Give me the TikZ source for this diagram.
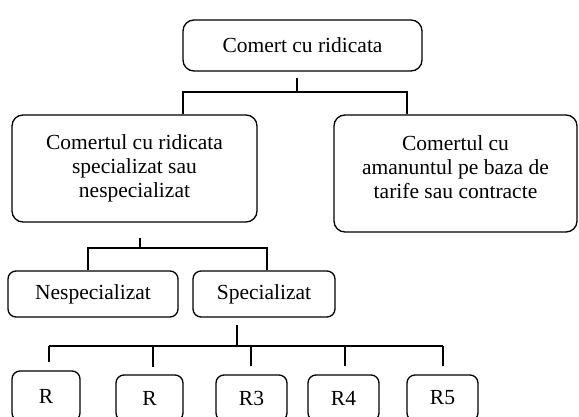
\documentclass[tikz,border=0pt]{standalone}
\usepackage{fontspec}
\setmainfont{Liberation Serif}
\begin{document}
\begin{tikzpicture}[x=1pt,y=-1pt,
  box/.style={draw,line width=1.3pt,rounded corners=11pt,align=center,inner sep=0pt,
    font=\fontsize{21.5}{24}\selectfont},
  small/.style={box,rounded corners=8pt},
  txt/.style={align=center,inner sep=0pt,font=\fontsize{21.5}{24}\selectfont},
  conn/.style={line width=1.3pt}]
\useasboundingbox (0,0) rectangle (579,417);
% boxes
\node[box,minimum width=239pt,minimum height=51pt] (top) at (302.5,45.5) {Comert cu ridicata};
\node[box,minimum width=245pt,minimum height=107pt] (left) at (134.5,168.5) {Comertul cu ridicata\\specializat sau\\nespecializat};
\node[box,minimum width=243pt,minimum height=117pt] (right) at (455.5,173.5) {};
\node[txt] (righttext) at (455.5,167.5) {Comertul cu\\amanuntul pe baza de\\tarife sau contracte};
\node[small,minimum width=170pt,minimum height=46pt] (nesp) at (93,294) {Nespecializat};
\node[small,minimum width=142pt,minimum height=46pt] (spec) at (264,294) {Specializat};
\node[small,minimum width=68pt,minimum height=50pt] (r1) at (46,396) {R};
\node[small,minimum width=67pt,minimum height=46pt] (r2) at (149.5,398) {R};
\node[small,minimum width=71pt,minimum height=46pt] (r3) at (251.5,398) {R3};
\node[small,minimum width=71pt,minimum height=46pt] (r4) at (343.5,398) {R4};
\node[small,minimum width=71pt,minimum height=46pt] (r5) at (442.5,398) {R5};
% connector points
\coordinate (t0) at (297,78);
\coordinate (t1) at (297,92);
\coordinate (tl) at (183,92);
\coordinate (tr) at (407,92);
\coordinate (l0) at (140,238);
\coordinate (l1) at (140,248);
\coordinate (ll) at (88,248);
\coordinate (lr) at (267,248);
\coordinate (s0) at (237,325);
\coordinate (s1) at (237,346);
\coordinate (b1) at (49,346);
\coordinate (b2) at (153,346);
\coordinate (b3) at (251,346);
\coordinate (b4) at (345,346);
\coordinate (b5) at (443,346);
% connectors
\draw[conn] (t0) -- (t1);
\draw[conn] (left.north -| tl) -- (tl) -- (tr) -- (right.north -| tr);
\draw[conn] (l0) -- (l1);
\draw[conn] (nesp.north -| ll) -- (ll) -- (lr) -- (spec.north -| lr);
\draw[conn] (s0) -- (s1);
\draw[conn] (b1) -- (b5);
\draw[conn] (b1) -- ++(0,16);
\draw[conn] (b2) -- ++(0,21);
\draw[conn] (b3) -- ++(0,20);
\draw[conn] (b4) -- ++(0,20);
\draw[conn] (b5) -- ++(0,20);
\end{tikzpicture}
\end{document}
